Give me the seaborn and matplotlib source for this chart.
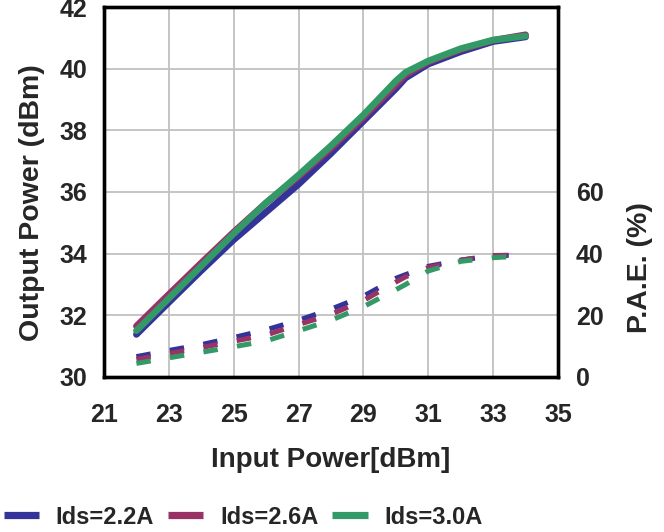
import numpy as np
import pandas as pd
import matplotlib
matplotlib.use("Agg")
import matplotlib.pyplot as plt
from matplotlib.lines import Line2D
from matplotlib import font_manager
import seaborn as sns

# Input power sweep (dBm)
pin = [22, 23, 24, 25, 26, 27, 28, 29, 30, 30.3, 31, 32, 33, 34]

# Output power (dBm) per bias current
pout_22 = [31.38, 32.42, 33.45, 34.45, 35.35, 36.25, 37.25, 38.30, 39.35, 39.70, 40.15, 40.55, 40.88, 41.03]
pout_26 = [31.65, 32.68, 33.70, 34.70, 35.65, 36.50, 37.42, 38.42, 39.48, 39.80, 40.22, 40.62, 40.92, 41.10]
pout_30 = [31.50, 32.55, 33.60, 34.65, 35.65, 36.55, 37.50, 38.50, 39.60, 39.88, 40.25, 40.65, 40.93, 41.06]

# PAE (%) per bias current
pae_22 = [6.6, 8.6, 10.5, 12.8, 15.3, 18.4, 22.0, 26.2, 32.0, 33.2, 35.9, 37.9, 39.4, 39.5]
pae_26 = [5.7, 7.6, 9.5, 11.6, 13.6, 17.0, 20.3, 24.8, 30.8, 32.5, 35.5, 37.9, 39.4, 39.5]
pae_30 = [4.4, 6.2, 8.0, 9.8, 11.7, 15.0, 18.4, 22.8, 28.3, 30.0, 34.4, 37.5, 38.7, 39.3]

labels = ["Ids=2.2A", "Ids=2.6A", "Ids=3.0A"]
colors = ["#333399", "#993366", "#339966"]

sns.set_style("white")
plt.rcParams['font.family'] = ['Liberation Sans', 'DejaVu Sans']
plt.rcParams['font.weight'] = 'bold'

installed = {f.name for f in font_manager.fontManager.ttflist}
legend_font = 'Liberation Sans Narrow' if 'Liberation Sans Narrow' in installed else 'Liberation Sans'
legend_size = 20 if legend_font == 'Liberation Sans Narrow' else 17

fig = plt.figure(figsize=(6.64, 5.32), dpi=100)
ax = fig.add_axes([0.1566, 0.2914, 0.6838, 0.6954])
ax2 = ax.twinx()

pout_all = [pout_22, pout_26, pout_30]
pae_all = [pae_22, pae_26, pae_30]

for vals, c in zip(pout_all, colors):
    sns.lineplot(x=pin, y=vals, color=c, lw=4.8, ax=ax, sort=False,
                 solid_capstyle='round', solid_joinstyle='round')

for vals, c in zip(pae_all, colors):
    sns.lineplot(x=pin, y=vals, color=c, lw=3.6, ax=ax2, sort=False,
                 linestyle=(0, (2.9, 3.9)), dash_capstyle='butt')

ax.set_xlim(21, 35)
ax.set_ylim(30, 42)
ax.set_xticks(np.arange(21, 36, 2))
ax.set_yticks(np.arange(30, 43, 2))
ax2.set_ylim(0, 120)
ax2.set_yticks([0, 20, 40, 60])

ax.grid(True, color='#c0c0c0', lw=1.3)
ax2.grid(False)
ax.set_axisbelow(True)

for a in (ax, ax2):
    for s in a.spines.values():
        s.set_color('black')
        s.set_linewidth(2.4)

ax.tick_params(axis='x', length=0, pad=19, labelsize=18)
ax.tick_params(axis='y', length=0, pad=12, labelsize=18)
ax2.tick_params(axis='y', length=0, pad=13, labelsize=18)

ax.set_xlabel("Input Power[dBm]", fontsize=20, fontweight='bold')
ax.set_ylabel("Output Power (dBm)", fontsize=20.5, fontweight='bold')
ax2.set_ylabel("P.A.E. (%)", fontsize=20.5, fontweight='bold')
ax.xaxis.set_label_coords(0.5, -0.19)
ax.yaxis.set_label_coords(-0.13, 0.47)
ax2.yaxis.set_label_coords(1.152, 0.295)

handles = [Line2D([0], [0], color=c, lw=5.2, solid_capstyle='butt') for c in colors]
fig.legend(handles, labels, loc='center', bbox_to_anchor=(0.366, 0.028), ncol=3,
           frameon=False, handlelength=1.5, handletextpad=0.7, columnspacing=0.6,
           prop={'family': legend_font, 'weight': 'bold', 'size': legend_size})

fig.savefig("out.png", dpi=100)
